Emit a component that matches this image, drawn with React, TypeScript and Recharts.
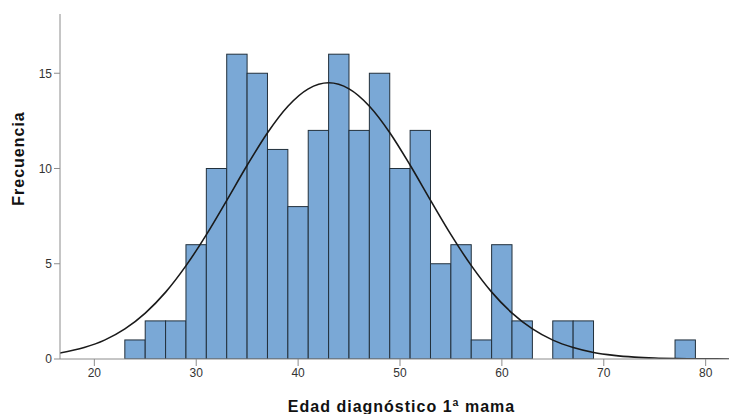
import {
  Bar,
  ComposedChart,
  Line,
  XAxis,
  YAxis,
} from "recharts";

// bin centres (width 2 years) and counts
const binMids = [24, 26, 28, 30, 32, 34, 36, 38, 40, 42, 44, 46, 48, 50, 52, 54, 56, 58, 60, 62, 64, 66, 68, 78];
const counts = [1, 2, 2, 6, 10, 16, 15, 11, 8, 12, 16, 12, 15, 10, 12, 5, 6, 1, 6, 2, 0, 2, 2, 1];

// normal curve
const curveX = [16.6, 19, 21, 23, 25, 27, 29, 31, 33, 35, 37, 39, 41, 43, 45, 47, 49, 51, 53, 55, 57, 59, 61, 63, 65, 67, 69, 71, 73, 75, 77, 79, 81, 82.3];
const curveY = [0.31, 0.6, 0.99, 1.58, 2.41, 3.51, 4.9, 6.53, 8.33, 10.17, 11.88, 13.27, 14.18, 14.5, 14.18, 13.27, 11.88, 10.17, 8.33, 6.53, 4.9, 3.51, 2.41, 1.58, 0.99, 0.6, 0.34, 0.19, 0.1, 0.05, 0.024, 0.011, 0.005, 0.003];

const xTicks = [20, 30, 40, 50, 60, 70, 80];
const yTicks = [0, 5, 10, 15];

const bars = binMids.map((x, i) => ({ x, count: counts[i] }));
const curve = curveX.map((x, i) => ({ x, normal: curveY[i] }));

const FONT = "'Liberation Sans', Arial, sans-serif";
const AXIS = "#8c8c8c";
const BIN_PX = 20.38; // one 2-year bin at this plot width

// recharts squeezes bars when line points sit closer together, so
// redraw each bar at full bin width around its centre
const BinBar = (props: any) => {
  const { x, y, width, height } = props;
  if (!height) return null;
  const cx = x + width / 2;
  return (
    <rect
      x={cx - BIN_PX / 2}
      y={y}
      width={BIN_PX}
      height={height}
      fill="#7aa8d6"
      stroke="#22303c"
      strokeWidth={1}
    />
  );
};

const titleStyle = {
  fontFamily: FONT,
  fontSize: 16,
  fontWeight: "bold",
  letterSpacing: 1,
  fill: "#111",
};

const App = (): JSX.Element => (
  <div style={{ position: "absolute", left: 0, top: 0, background: "#fff" }}>
    <ComposedChart
      width={729}
      height={414}
      data={bars}
      margin={{ top: 14, right: 0, bottom: 0, left: 0 }}
    >
      <XAxis
        dataKey="x"
        type="number"
        domain={[16.63, 82.29]}
        ticks={xTicks}
        allowDataOverflow
        height={55}
        stroke={AXIS}
        tickSize={7}
        tick={{ fill: "#333", fontSize: 12, fontFamily: FONT }}
        label={{
          value: "Edad diagnóstico 1ª mama",
          position: "insideBottom",
          offset: 2,
          dx: 7,
          style: titleStyle,
        }}
      />
      <YAxis
        type="number"
        domain={[0, 18.11]}
        ticks={yTicks}
        allowDataOverflow
        width={60}
        stroke={AXIS}
        tickSize={6}
        tick={{ fill: "#333", fontSize: 12, fontFamily: FONT }}
        label={{
          value: "Frecuencia",
          angle: -90,
          position: "insideLeft",
          offset: 18,
          dy: -28,
          style: { ...titleStyle, textAnchor: "middle" },
        }}
      />
      <Bar
        dataKey="count"
        shape={BinBar}
        isAnimationActive={false}
      />
      <Line
        data={curve}
        dataKey="normal"
        type="monotone"
        stroke="#1a1a1a"
        strokeWidth={1.6}
        dot={false}
        activeDot={false}
        isAnimationActive={false}
      />
    </ComposedChart>
  </div>
);

export default App;
